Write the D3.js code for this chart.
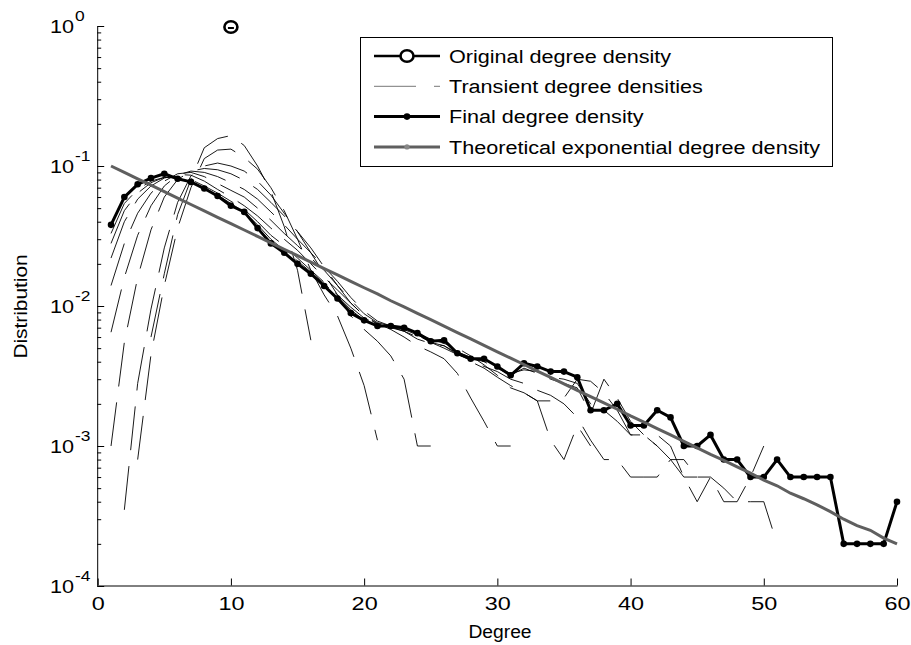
<!DOCTYPE html>
<html>
<head>
<meta charset="utf-8">
<script src="https://cdn.jsdelivr.net/npm/d3@7"></script>
<style>
  body { margin: 0; background: #fff; }
  text { font-family: "Liberation Sans", Arial, sans-serif; fill: #000; }
</style>
</head>
<body>
<div id="chart"></div>
<script>
// degree axis and tick values
const xTicks = [0, 10, 20, 30, 40, 50, 60];
const yTicks = [1e-4, 1e-3, 1e-2, 1e-1, 1];
const yTickExponents = ["-4", "-3", "-2", "-1", "0"];

// original density: every node starts with degree 10
const originalDegree = [10];
const originalDensity = [1];

// final degree density, degrees 1..60
const finalDensity = [
  0.038, 0.060, 0.074, 0.082, 0.088, 0.081, 0.077, 0.069, 0.061, 0.052,
  0.047, 0.036, 0.028, 0.024, 0.020, 0.017, 0.0139, 0.0113, 0.0089, 0.0079,
  0.0072, 0.0072, 0.0070, 0.0064, 0.0056, 0.0057, 0.0046, 0.0042, 0.0042, 0.0037,
  0.0032, 0.0039, 0.0037, 0.0034, 0.0034, 0.0031, 0.0018, 0.0018, 0.0020, 0.0014,
  0.0014, 0.0018, 0.0016, 0.0010, 0.0010, 0.0012, 0.0008, 0.0008, 0.0006, 0.0006,
  0.0008, 0.0006, 0.0006, 0.0006, 0.0006, 0.0002, 0.0002, 0.0002, 0.0002, 0.0004
];

// theoretical exponential density, degrees 1..60
const theoryDensity = [
  0.1, 0.09, 0.081, 0.0729, 0.0656, 0.0590, 0.0531, 0.0478, 0.0430, 0.0387,
  0.0349, 0.0314, 0.0282, 0.0254, 0.0229, 0.0206, 0.0185, 0.0167, 0.0150, 0.0135,
  0.0122, 0.0109, 0.00985, 0.00886, 0.00798, 0.00718, 0.00646, 0.00582, 0.00523, 0.00471,
  0.00424, 0.00382, 0.00343, 0.00309, 0.00278, 0.00250, 0.00225, 0.00203, 0.00183, 0.00164,
  0.00148, 0.00133, 0.00120, 0.00108, 0.00097, 0.00087, 0.00079, 0.00071, 0.00064, 0.00057,
  0.00052, 0.00046, 0.00042, 0.00038, 0.00034, 0.00030, 0.00027, 0.00025, 0.00022, 0.00020
];

// transient densities: first degree of each curve, then its values
const transientStart = [4, 3, 2, 1, 1, 1, 1, 1, 1];
const transient1 = [0.006, 0.017, 0.045, 0.08, 0.135, 0.157, 0.165, 0.14, 0.10, 0.066, 0.037, 0.018, 0.0057];
const transient2 = [0.0008, 0.0045, 0.014, 0.036, 0.07, 0.113, 0.13, 0.132, 0.115, 0.095, 0.07, 0.048, 0.03,
  0.018, 0.012, 0.0085, 0.005, 0.0027, 0.0011];
const transient3 = [0.00035, 0.0028, 0.0095, 0.026, 0.055, 0.085, 0.1, 0.105, 0.1, 0.092, 0.078, 0.062, 0.046,
  0.034, 0.024, 0.017, 0.012, 0.0085, 0.0068, 0.0056, 0.0044, 0.003, 0.001, 0.001];
const transient4 = [0.001, 0.0055, 0.016, 0.035, 0.06, 0.08, 0.092, 0.096, 0.094, 0.088, 0.079, 0.068, 0.055,
  0.044, 0.034, 0.026, 0.019, 0.014, 0.0105, 0.0085, 0.0075, 0.0068, 0.006, 0.0052, 0.0047, 0.0042,
  0.0033, 0.0022, 0.0015, 0.001, 0.001];
const transient5 = [0.0065, 0.016, 0.032, 0.052, 0.072, 0.086, 0.092, 0.09, 0.084, 0.076, 0.068, 0.058, 0.047,
  0.038, 0.03, 0.024, 0.019, 0.015, 0.0115, 0.0092, 0.0078, 0.0072, 0.0068, 0.0062, 0.0055, 0.0052,
  0.0046, 0.004, 0.0036, 0.0031, 0.0027, 0.0024, 0.0021, 0.0011, 0.0008, 0.0014, 0.001];
const transient6 = [0.014, 0.028, 0.046, 0.064, 0.078, 0.088, 0.09, 0.084, 0.075, 0.067, 0.06, 0.05, 0.041,
  0.033, 0.027, 0.022, 0.018, 0.014, 0.011, 0.0088, 0.0076, 0.0072, 0.007, 0.0064, 0.0058, 0.0054,
  0.005, 0.0044, 0.0038, 0.0032, 0.0026, 0.0024, 0.0021, 0.0021, 0.0022, 0.003, 0.0029, 0.0024,
  0.0018, 0.0012, 0.0012, 0.001];
const transient7 = [0.022, 0.04, 0.058, 0.072, 0.082, 0.087, 0.086, 0.078, 0.068, 0.06, 0.052, 0.044, 0.036,
  0.03, 0.025, 0.02, 0.016, 0.013, 0.0105, 0.0085, 0.0074, 0.007, 0.0066, 0.006, 0.0055, 0.005,
  0.0045, 0.0041, 0.0037, 0.0034, 0.003, 0.0028, 0.0025, 0.0023, 0.002, 0.0016, 0.0011, 0.0008,
  0.0008, 0.0006, 0.0006, 0.0006, 0.0008, 0.0006, 0.0006];
const transient8 = [0.028, 0.048, 0.064, 0.076, 0.083, 0.084, 0.08, 0.072, 0.064, 0.056, 0.049, 0.04, 0.032,
  0.027, 0.022, 0.018, 0.0148, 0.012, 0.0098, 0.0082, 0.0074, 0.0071, 0.0066, 0.0058, 0.0054, 0.0052,
  0.0045, 0.0042, 0.004, 0.0036, 0.0032, 0.0036, 0.0033, 0.003, 0.0028, 0.0026, 0.0017, 0.003,
  0.0022, 0.0015, 0.0012, 0.0012, 0.001, 0.0006, 0.0004, 0.0006, 0.0004, 0.0004, 0.0006, 0.001];
const transient9 = [0.033, 0.054, 0.068, 0.078, 0.083, 0.082, 0.077, 0.07, 0.062, 0.054, 0.047, 0.038, 0.03,
  0.025, 0.021, 0.0175, 0.0145, 0.0118, 0.0094, 0.0079, 0.0072, 0.007, 0.0068, 0.0062, 0.0056, 0.0055,
  0.0047, 0.0043, 0.004, 0.0036, 0.0033, 0.0035, 0.0034, 0.0031, 0.003, 0.0028, 0.002, 0.0018,
  0.0015, 0.0012, 0.0012, 0.001, 0.0008, 0.0008, 0.0006, 0.0006, 0.0005, 0.0004, 0.0004, 0.0004, 0.0002];
const transients = [transient1, transient2, transient3, transient4, transient5,
  transient6, transient7, transient8, transient9];

const legendLabels = [
  "Original degree density",
  "Transient degree densities",
  "Final degree density",
  "Theoretical exponential degree density"
];

const width = 911;
const height = 645;

const svg = d3.select("#chart")
  .append("svg")
  .attr("width", width)
  .attr("height", height);

const x = d3.scaleLinear().domain([0, 60]).range([97.7, 897]);
const y = d3.scaleLog().domain([1e-4, 1]).range([586, 26]);

// the figure's font is wider than Arial, so stretch text along its run
function stretch(sel, f) {
  sel.each(function() {
    const w = this.getComputedTextLength();
    d3.select(this).attr("textLength", w * f).attr("lengthAdjust", "spacingAndGlyphs");
  });
}

// x axis, ticks pointing inward
const xAxis = svg.append("g")
  .attr("transform", `translate(0,${y(1e-4) - 0.5})`)
  .call(d3.axisBottom(x).tickValues(xTicks).tickSizeInner(-7).tickSizeOuter(0).tickPadding(12));
xAxis.selectAll("text").style("font-size", "18px").attr("fill", "#000");
xAxis.selectAll("line, path").attr("stroke", "#000");
stretch(xAxis.selectAll("text"), 1.3);

// y axis, major and minor ticks
const yAxis = svg.append("g")
  .attr("transform", `translate(${x(0) - 0.5},0)`)
  .call(d3.axisLeft(y).tickValues(yTicks).tickSizeInner(-7).tickSizeOuter(0).tickFormat(""));
yAxis.selectAll("line, path").attr("stroke", "#000");

const minorTicks = [];
yTicks.slice(0, -1).forEach(t => {
  for (let m = 2; m <= 9; m++) minorTicks.push(t * m);
});
const yMinor = svg.append("g")
  .attr("transform", `translate(${x(0) - 0.5},0)`)
  .call(d3.axisLeft(y).tickValues(minorTicks).tickSizeInner(-4).tickSizeOuter(0).tickFormat(""));
yMinor.select(".domain").remove();
yMinor.selectAll("line").attr("stroke", "#000");

// y tick labels as 10 with superscript exponent
const yLab = svg.append("g");
yLab.selectAll("text.base")
  .data(yTicks)
  .enter()
  .append("text")
  .attr("class", "base")
  .attr("x", 74)
  .attr("y", d => y(d) + 6.5)
  .attr("text-anchor", "end")
  .style("font-size", "18px")
  .text("10");
stretch(yLab.selectAll("text.base"), 1.2);
yLab.selectAll("text.exp")
  .data(yTicks)
  .enter()
  .append("text")
  .attr("class", "exp")
  .attr("x", 75)
  .attr("y", d => y(d) - 5.5)
  .style("font-size", "14.5px")
  .text((d, i) => yTickExponents[i]);
stretch(yLab.selectAll("text.exp"), 1.2);

// axis titles
const xTitle = svg.append("text")
  .attr("x", 500)
  .attr("y", 638)
  .attr("text-anchor", "middle")
  .style("font-size", "17.5px")
  .text("Degree");
stretch(xTitle, 1.1);

const yTitle = svg.append("text")
  .attr("transform", "translate(26.5,306.5) rotate(-90)")
  .attr("text-anchor", "middle")
  .style("font-size", "17.5px")
  .text("Distribution");
stretch(yTitle, 1.19);

const line = d3.line()
  .x(d => x(d.k))
  .y(d => y(d.v));

// transient densities, thin dashed
svg.append("g")
  .selectAll("path")
  .data(transients.map((arr, j) => arr.map((v, i) => ({ k: transientStart[j] + i, v: v }))))
  .enter()
  .append("path")
  .attr("d", line)
  .attr("fill", "none")
  .attr("stroke", "#000")
  .attr("stroke-width", 0.9)
  .attr("stroke-dasharray", "44,16");

// final density
const finalData = finalDensity.map((v, i) => ({ k: i + 1, v: v }));
svg.append("path")
  .datum(finalData)
  .attr("d", line)
  .attr("fill", "none")
  .attr("stroke", "#000")
  .attr("stroke-width", 3)
  .attr("stroke-linejoin", "round");
svg.append("g")
  .selectAll("circle")
  .data(finalData)
  .enter()
  .append("circle")
  .attr("cx", d => x(d.k))
  .attr("cy", d => y(d.v))
  .attr("r", 3.3)
  .attr("fill", "#000");

// theoretical exponential density
const theoryData = theoryDensity.map((v, i) => ({ k: i + 1, v: v }));
svg.append("path")
  .datum(theoryData)
  .attr("d", line)
  .attr("fill", "none")
  .attr("stroke", "#5f5f5f")
  .attr("stroke-width", 3);

// original density, a single point
const orig = svg.append("g")
  .selectAll("g")
  .data(originalDegree.map((k, i) => ({ k: k, v: originalDensity[i] })))
  .enter()
  .append("g")
  .attr("transform", d => `translate(${x(d.k)},${y(d.v) + 1})`);
orig.append("ellipse")
  .attr("rx", 6.5)
  .attr("ry", 5.8)
  .attr("fill", "none")
  .attr("stroke", "#000")
  .attr("stroke-width", 2.6);
orig.append("line")
  .attr("x1", -3).attr("x2", 3)
  .attr("y1", 1).attr("y2", 1)
  .attr("stroke", "#000")
  .attr("stroke-width", 2);

// legend
const legend = svg.append("g");
legend.append("rect")
  .attr("x", 360.5)
  .attr("y", 37.5)
  .attr("width", 472)
  .attr("height", 129)
  .attr("fill", "#fff")
  .attr("stroke", "#000")
  .attr("stroke-width", 1);

const rows = legend.selectAll("g.row")
  .data(legendLabels)
  .enter()
  .append("g")
  .attr("class", "row")
  .attr("transform", (d, i) => `translate(0,${56 + i * 30.3})`);

rows.append("text")
  .attr("x", 449)
  .attr("y", 6.6)
  .style("font-size", "18px")
  .text(d => d);
stretch(rows.selectAll("text"), 1.2);

// sample marks
const r0 = d3.select(rows.nodes()[0]);
r0.append("line").attr("x1", 374).attr("x2", 440).attr("stroke", "#000").attr("stroke-width", 2.6);
r0.append("ellipse").attr("cx", 407).attr("rx", 6.5).attr("ry", 5.8)
  .attr("fill", "#fff").attr("stroke", "#000").attr("stroke-width", 2.6);

const r1 = d3.select(rows.nodes()[1]);
r1.append("line").attr("x1", 374).attr("x2", 440).attr("stroke", "#777").attr("stroke-width", 1)
  .attr("stroke-dasharray", "42,18");

const r2 = d3.select(rows.nodes()[2]);
r2.append("line").attr("x1", 374).attr("x2", 440).attr("stroke", "#000").attr("stroke-width", 3);
r2.append("circle").attr("cx", 407).attr("r", 3.3).attr("fill", "#000");

const r3 = d3.select(rows.nodes()[3]);
r3.append("line").attr("x1", 374).attr("x2", 440).attr("stroke", "#5f5f5f").attr("stroke-width", 3);
r3.append("circle").attr("cx", 407).attr("r", 2.6).attr("fill", "#888");
</script>
</body>
</html>
